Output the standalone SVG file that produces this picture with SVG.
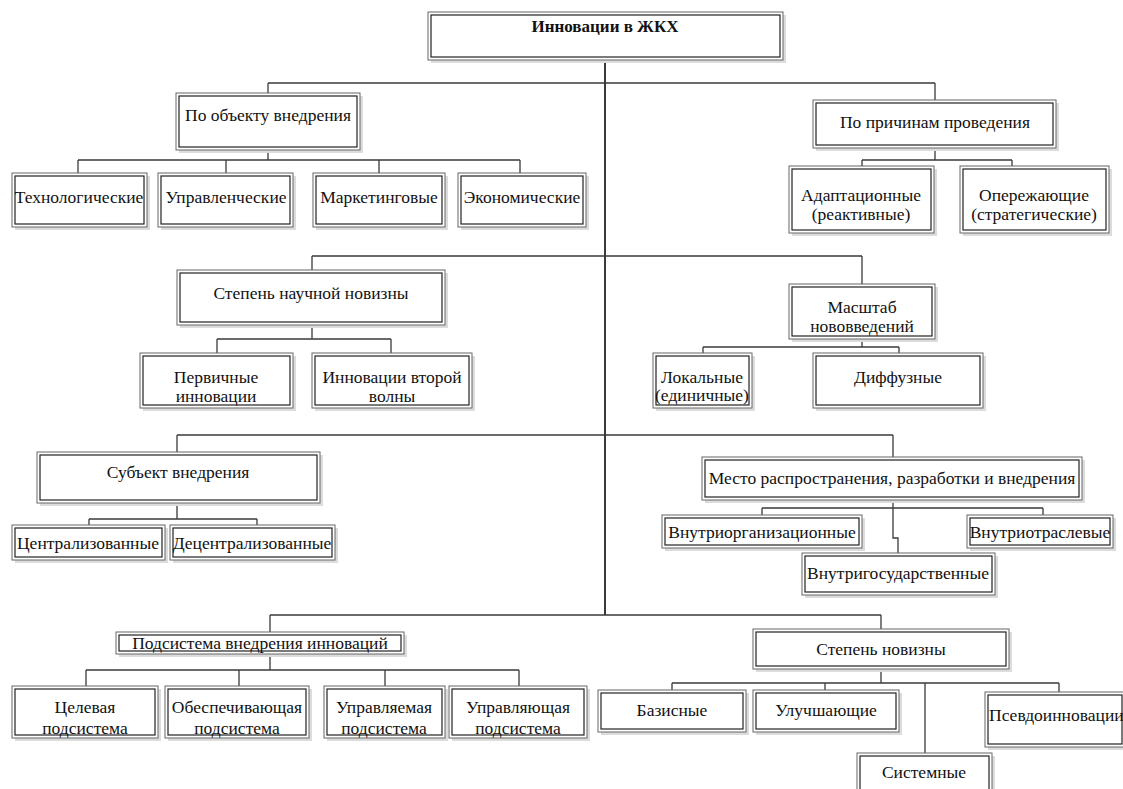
<svg xmlns="http://www.w3.org/2000/svg" width="1123" height="789" viewBox="0 0 1123 789">
<style>
.sh{fill:#dcdcdc;stroke:none}
.o{fill:#fff;stroke:#666;stroke-width:1}
.i{fill:none;stroke:#222;stroke-width:1.2}
.t{font-family:"Liberation Serif","Times New Roman","DejaVu Serif",serif;font-size:17.5px;fill:#111;text-anchor:middle}
.tb{font-weight:bold;font-size:17px}
.c{fill:none;stroke:#3a3a3a;stroke-width:1.3}
.trunk{stroke-width:2}
</style>
<rect width="1123" height="789" fill="#fff"/>
<g id="connectors">
<path class="c trunk" d="M605,60V615"/>
<path class="c" d="M268,83H935M268,83V93M268,150V160M78,160H520M78,160V173M226,160V173M379,160V173M520,160V173"/>
<path class="c" d="M935,83V100M935,148V160M862,160H1012M862,160V166M1012,160V166"/>
<path class="c" d="M312,256H862M312,256V270M312,325V339M217,339H391M217,339V353M391,339V353"/>
<path class="c" d="M862,256V284M862,339V347M703,347H899M703,347V353M899,347V353"/>
<path class="c" d="M177,435H893M177,435V452M177,503V519M89,519H257M89,519V525M257,519V525"/>
<path class="c" d="M893,435V457M893,500V538H898V553M762,508H1043M762,508V515M1043,508V515"/>
<path class="c" d="M270,615H881M270,615V632M270,653V670M86,670H519M86,670V686M239,670V686M385,670V686M519,670V686"/>
<path class="c" d="M881,615V629M881,669V683M672,683H1059M672,683V690M825,683V690M925,683V753M1059,683V692"/>
</g>
<g id="root"><rect class="sh" x="431" y="15" width="355" height="48"/><rect class="o" x="428" y="12" width="355" height="48"/><rect class="i" x="431" y="15" width="349" height="42"/><text class="t tb" x="605" y="32">Инновации в ЖКХ</text></g>
<g id="n-obj"><rect class="sh" x="179" y="96" width="184" height="57"/><rect class="o" x="176" y="93" width="184" height="57"/><rect class="i" x="179" y="96" width="178" height="51"/><text class="t" x="268" y="121">По объекту внедрения</text></g>
<g id="n-tech"><rect class="sh" x="15" y="176" width="135" height="54"/><rect class="o" x="12" y="173" width="135" height="54"/><rect class="i" x="15" y="176" width="129" height="48"/><text class="t" x="79" y="203">Технологические</text></g>
<g id="n-upr"><rect class="sh" x="161" y="176" width="135" height="54"/><rect class="o" x="158" y="173" width="135" height="54"/><rect class="i" x="161" y="176" width="129" height="48"/><text class="t" x="226" y="203">Управленческие</text></g>
<g id="n-mark"><rect class="sh" x="316" y="176" width="132" height="54"/><rect class="o" x="313" y="173" width="132" height="54"/><rect class="i" x="316" y="176" width="126" height="48"/><text class="t" x="379" y="203">Маркетинговые</text></g>
<g id="n-econ"><rect class="sh" x="461" y="176" width="128" height="54"/><rect class="o" x="458" y="173" width="128" height="54"/><rect class="i" x="461" y="176" width="122" height="48"/><text class="t" x="522" y="203">Экономические</text></g>
<g id="n-reason"><rect class="sh" x="816" y="103" width="243" height="48"/><rect class="o" x="813" y="100" width="243" height="48"/><rect class="i" x="816" y="103" width="237" height="42"/><text class="t" x="935" y="128">По причинам проведения</text></g>
<g id="n-adapt"><rect class="sh" x="792" y="169" width="145" height="67"/><rect class="o" x="789" y="166" width="145" height="67"/><rect class="i" x="792" y="169" width="139" height="61"/><text class="t" x="861" y="201">Адаптационные</text><text class="t" x="861" y="220">(реактивные)</text></g>
<g id="n-oper"><rect class="sh" x="963" y="169" width="149" height="67"/><rect class="o" x="960" y="166" width="149" height="67"/><rect class="i" x="963" y="169" width="143" height="61"/><text class="t" x="1034" y="201">Опережающие</text><text class="t" x="1034" y="220">(стратегические)</text></g>
<g id="n-sci"><rect class="sh" x="180" y="273" width="268" height="55"/><rect class="o" x="177" y="270" width="268" height="55"/><rect class="i" x="180" y="273" width="262" height="49"/><text class="t" x="311" y="299">Степень научной новизны</text></g>
<g id="n-perv"><rect class="sh" x="143" y="356" width="153" height="55"/><rect class="o" x="140" y="353" width="153" height="55"/><rect class="i" x="143" y="356" width="147" height="49"/><text class="t" x="216" y="383">Первичные</text><text class="t" x="216" y="402">инновации</text></g>
<g id="n-vtor"><rect class="sh" x="315" y="356" width="160" height="55"/><rect class="o" x="312" y="353" width="160" height="55"/><rect class="i" x="315" y="356" width="154" height="49"/><text class="t" x="392" y="383">Инновации второй</text><text class="t" x="392" y="402">волны</text></g>
<g id="n-scale"><rect class="sh" x="792" y="287" width="146" height="55"/><rect class="o" x="789" y="284" width="146" height="55"/><rect class="i" x="792" y="287" width="140" height="49"/><text class="t" x="862" y="313">Масштаб</text><text class="t" x="862" y="332">нововведений</text></g>
<g id="n-local"><rect class="sh" x="656" y="356" width="99" height="55"/><rect class="o" x="653" y="353" width="99" height="55"/><rect class="i" x="656" y="356" width="93" height="49"/><text class="t" x="702" y="383">Локальные</text><text class="t" x="702" y="401">(единичные)</text></g>
<g id="n-diff"><rect class="sh" x="816" y="356" width="170" height="55"/><rect class="o" x="813" y="353" width="170" height="55"/><rect class="i" x="816" y="356" width="164" height="49"/><text class="t" x="898" y="383">Диффузные</text></g>
<g id="n-subj"><rect class="sh" x="40" y="455" width="283" height="51"/><rect class="o" x="37" y="452" width="283" height="51"/><rect class="i" x="40" y="455" width="277" height="45"/><text class="t" x="178" y="478">Субъект внедрения</text></g>
<g id="n-central"><rect class="sh" x="15" y="528" width="153" height="35"/><rect class="o" x="12" y="525" width="153" height="35"/><rect class="i" x="15" y="528" width="147" height="29"/><text class="t" x="88" y="549">Централизованные</text></g>
<g id="n-decentral"><rect class="sh" x="173" y="528" width="165" height="35"/><rect class="o" x="170" y="525" width="165" height="35"/><rect class="i" x="173" y="528" width="159" height="29"/><text class="t" x="252" y="549">Децентрализованные</text></g>
<g id="n-place"><rect class="sh" x="705" y="460" width="380" height="43"/><rect class="o" x="702" y="457" width="380" height="43"/><rect class="i" x="705" y="460" width="374" height="37"/><text class="t" x="892" y="484">Место распространения, разработки и внедрения</text></g>
<g id="n-vnorg"><rect class="sh" x="665" y="518" width="200" height="33"/><rect class="o" x="662" y="515" width="200" height="33"/><rect class="i" x="665" y="518" width="194" height="27"/><text class="t" x="762" y="538">Внутриорганизационные</text></g>
<g id="n-vnotr"><rect class="sh" x="970" y="518" width="146" height="33"/><rect class="o" x="967" y="515" width="146" height="33"/><rect class="i" x="970" y="518" width="140" height="27"/><text class="t" x="1040" y="538">Внутриотраслевые</text></g>
<g id="n-vngos"><rect class="sh" x="805" y="556" width="193" height="42"/><rect class="o" x="802" y="553" width="193" height="42"/><rect class="i" x="805" y="556" width="187" height="36"/><text class="t" x="898" y="579">Внутригосударственные</text></g>
<g id="n-podsys"><rect class="sh" x="119" y="635" width="288" height="22"/><rect class="o" x="116" y="632" width="288" height="22"/><rect class="i" x="119" y="635" width="282" height="16"/><text class="t" x="260" y="649">Подсистема внедрения инноваций</text></g>
<g id="n-cel"><rect class="sh" x="15" y="689" width="146" height="52"/><rect class="o" x="12" y="686" width="146" height="52"/><rect class="i" x="15" y="689" width="140" height="46"/><text class="t" x="85" y="713">Целевая</text><text class="t" x="85" y="734">подсистема</text></g>
<g id="n-obesp"><rect class="sh" x="168" y="689" width="144" height="52"/><rect class="o" x="165" y="686" width="144" height="52"/><rect class="i" x="168" y="689" width="138" height="46"/><text class="t" x="237" y="713">Обеспечивающая</text><text class="t" x="237" y="734">подсистема</text></g>
<g id="n-uprm"><rect class="sh" x="327" y="689" width="121" height="52"/><rect class="o" x="324" y="686" width="121" height="52"/><rect class="i" x="327" y="689" width="115" height="46"/><text class="t" x="384" y="713">Управляемая</text><text class="t" x="384" y="734">подсистема</text></g>
<g id="n-upru"><rect class="sh" x="452" y="689" width="138" height="52"/><rect class="o" x="449" y="686" width="138" height="52"/><rect class="i" x="452" y="689" width="132" height="46"/><text class="t" x="518" y="713">Управляющая</text><text class="t" x="518" y="734">подсистема</text></g>
<g id="n-nov"><rect class="sh" x="756" y="632" width="256" height="40"/><rect class="o" x="753" y="629" width="256" height="40"/><rect class="i" x="756" y="632" width="250" height="34"/><text class="t" x="881" y="655">Степень новизны</text></g>
<g id="n-baz"><rect class="sh" x="601" y="693" width="148" height="42"/><rect class="o" x="598" y="690" width="148" height="42"/><rect class="i" x="601" y="693" width="142" height="36"/><text class="t" x="672" y="716">Базисные</text></g>
<g id="n-ulu"><rect class="sh" x="756" y="693" width="146" height="42"/><rect class="o" x="753" y="690" width="146" height="42"/><rect class="i" x="756" y="693" width="140" height="36"/><text class="t" x="826" y="716">Улучшающие</text></g>
<g id="n-pseudo"><rect class="sh" x="988" y="695" width="140" height="55"/><rect class="o" x="985" y="692" width="140" height="55"/><rect class="i" x="988" y="695" width="134" height="49"/><text class="t" x="989" y="721" style="text-anchor:start">Псевдоинновации</text></g>
<g id="n-sys"><rect class="sh" x="860" y="756" width="135" height="40"/><rect class="o" x="857" y="753" width="135" height="40"/><rect class="i" x="860" y="756" width="129" height="34"/><text class="t" x="924" y="778">Системные</text></g>
</svg>
